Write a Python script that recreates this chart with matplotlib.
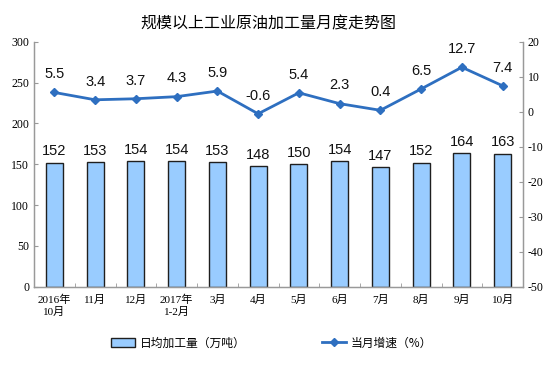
import matplotlib
matplotlib.use("Agg")
import matplotlib.pyplot as plt
import numpy as np

plt.rcParams["axes.unicode_minus"] = False

# data
months = ["2016年\n10月", "11月", "12月", "2017年\n1-2月", "3月", "4月",
          "5月", "6月", "7月", "8月", "9月", "10月"]
daily_output = [152, 153, 154, 154, 153, 148, 150, 154, 147, 152, 164, 163]
growth = [5.5, 3.4, 3.7, 4.3, 5.9, -0.6, 5.4, 2.3, 0.4, 6.5, 12.7, 7.4]

cjk = ["Noto Sans CJK SC", "DejaVu Sans"]
serif = ["Liberation Serif", "Noto Sans CJK SC"]

fig = plt.figure(figsize=(5.54, 3.76), dpi=100)
ax = fig.add_axes([34 / 554, 1 - 286.7 / 376, (523 - 34) / 554, (286.7 - 41.7) / 376])
ax2 = ax.twinx()

x = np.arange(len(months))
bars = ax.bar(x, daily_output, width=0.42, color="#99CCFF", edgecolor="#1f1f1f",
              linewidth=1.0, label="日均加工量（万吨）", zorder=2)
for xi, v in zip(x, daily_output):
    ax.text(xi, v + 5, str(v), ha="center", va="bottom", fontsize=10.5,
            family=["Liberation Sans"], color="#111111")

ax.set_ylim(0, 300)
ax.set_xlim(-0.5, len(months) - 0.5)
ax.set_yticks(range(0, 301, 50))
ax.set_xticks(x)
ax.set_xticklabels(months, family=serif, fontsize=8)
ax.set_xticks(np.arange(-0.5, len(months), 1), minor=True)
ax.tick_params(axis="x", which="major", length=0, pad=6)
ax.tick_params(axis="x", which="minor", direction="in", length=3, color="#999999")
ax.tick_params(axis="y", direction="in", length=3, color="#999999", labelsize=8.5)
for lbl in ax.get_yticklabels():
    lbl.set_family(serif)

line, = ax2.plot(x, growth, color="#2E6FC0", linewidth=2.0, marker="D", markersize=3.8,
                 label="当月增速（%）", zorder=3)
for xi, v in zip(x, growth):
    ax2.text(xi, v + 3.2, f"{v}", ha="center", va="bottom", fontsize=10.5,
             family=["Liberation Sans"], color="#111111")
ax2.set_ylim(-50, 20)
ax2.set_yticks(range(-50, 21, 10))
ax2.tick_params(axis="y", direction="in", length=3, color="#999999", labelsize=8.5)
for lbl in ax2.get_yticklabels():
    lbl.set_family(serif)

for a in (ax, ax2):
    a.spines["top"].set_visible(False)
    for s in ("left", "right", "bottom"):
        a.spines[s].set_color("#999999")
        a.spines[s].set_linewidth(0.9)

fig.text(0.485, 1 - 24 / 376, "规模以上工业原油加工量月度走势图", ha="center", va="center",
         fontsize=11.5, family=cjk)

fig.legend([bars, line], ["日均加工量（万吨）", "当月增速（%）"], loc="center",
           bbox_to_anchor=(0.49, 1 - 343 / 376), ncol=2, frameon=False,
           prop={"family": cjk, "size": 8.5}, columnspacing=6.5, handlelength=2.0,
           handletextpad=0.4)

fig.savefig("out.png", dpi=100)
